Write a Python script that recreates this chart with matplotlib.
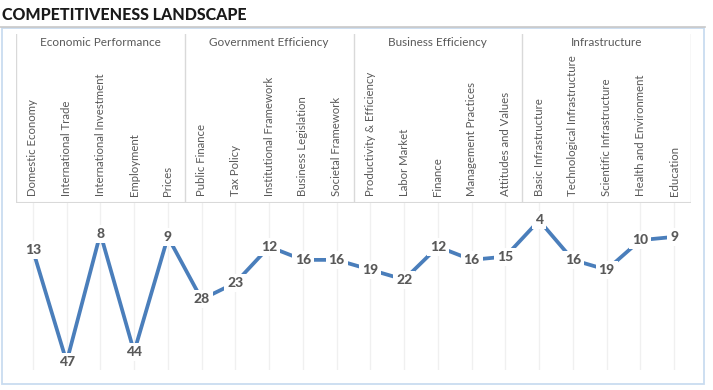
import numpy as np
import matplotlib
matplotlib.use("Agg")
from matplotlib import pyplot as plt
from matplotlib.lines import Line2D
from matplotlib.patches import Rectangle

plt.rcParams['font.family'] = ['Lato', 'DejaVu Sans']

groups = ['Economic Performance', 'Government Efficiency', 'Business Efficiency', 'Infrastructure']
categories = ['Domestic Economy', 'International Trade', 'International Investment', 'Employment', 'Prices',
              'Public Finance', 'Tax Policy', 'Institutional Framework', 'Business Legislation', 'Societal Framework',
              'Productivity & Efficiency', 'Labor Market', 'Finance', 'Management Practices', 'Attitudes and Values',
              'Basic Infrastructure', 'Technological Infrastructure', 'Scientific Infrastructure',
              'Health and Environment', 'Education']
ranks = [13, 47, 8, 44, 9, 28, 23, 12, 16, 16, 19, 22, 12, 16, 15, 4, 16, 19, 10, 9]

W, H = 713, 390
fig = plt.figure(figsize=(W / 100, H / 100), dpi=100)

def rect(x0, y0, x1, y1):
    # pixel box (top-left origin) -> figure fraction
    return [x0 / W, 1 - y1 / H, (x1 - x0) / W, (y1 - y0) / H]

# title and outer frame
fig.text(2 / W, 1 - 15 / H, 'COMPETITIVENESS LANDSCAPE', fontsize=11.5, fontweight='black',
         color='#1a1a1a', va='center', ha='left')
fig.add_artist(Line2D([0, 705 / W], [1 - 27 / H, 1 - 27 / H], color='#c8c8c8', lw=1.2))
fig.add_artist(Rectangle((2 / W, 1 - 384 / H), 702 / W, 356 / H, fill=False,
                         edgecolor='#c9dcf0', lw=1.3))

n = len(categories)

# header table
hx = fig.add_axes(rect(16, 34, 691, 203))
hx.set_xlim(-0.5, n - 0.5)
hx.set_ylim(1, 0)
hx.axis('off')
for k in range(len(groups) + 1):
    hx.axvline(k * 5 - 0.5, color='#d9d9d9', lw=1)
hx.axhline(1, color='#d9d9d9', lw=1.5)
for k, g in enumerate(groups):
    hx.text(k * 5 + 2, 8 / 169, g, ha='center', va='center', fontsize=8.5, color='#595959')
for i, c in enumerate(categories):
    hx.text(i, 162 / 169, c, rotation=90, ha='center', va='bottom', fontsize=8.2, color='#595959')

# line chart
ax = fig.add_axes(rect(16, 203, 691, 370))
x = np.arange(n)
ax.plot(x, ranks, color='#4a7ebb', lw=2.7, solid_joinstyle='miter', zorder=2)
for xi, r in zip(x, ranks):
    ax.text(xi, r, str(r), ha='center', va='center', fontsize=10, fontweight='black', color='#595959',
            bbox=dict(facecolor='white', edgecolor='none', pad=2.2), zorder=3, clip_on=False)
ax.set_xlim(-0.5, n - 0.5)
ax.set_ylim(49.5, -1.3)
ax.set_xticks(x)
ax.grid(axis='x', color='#f0f0f0', lw=1)
ax.tick_params(length=0, labelbottom=False, labelleft=False)
for s in ax.spines.values():
    s.set_visible(False)

fig.savefig('out.png', dpi=100)
